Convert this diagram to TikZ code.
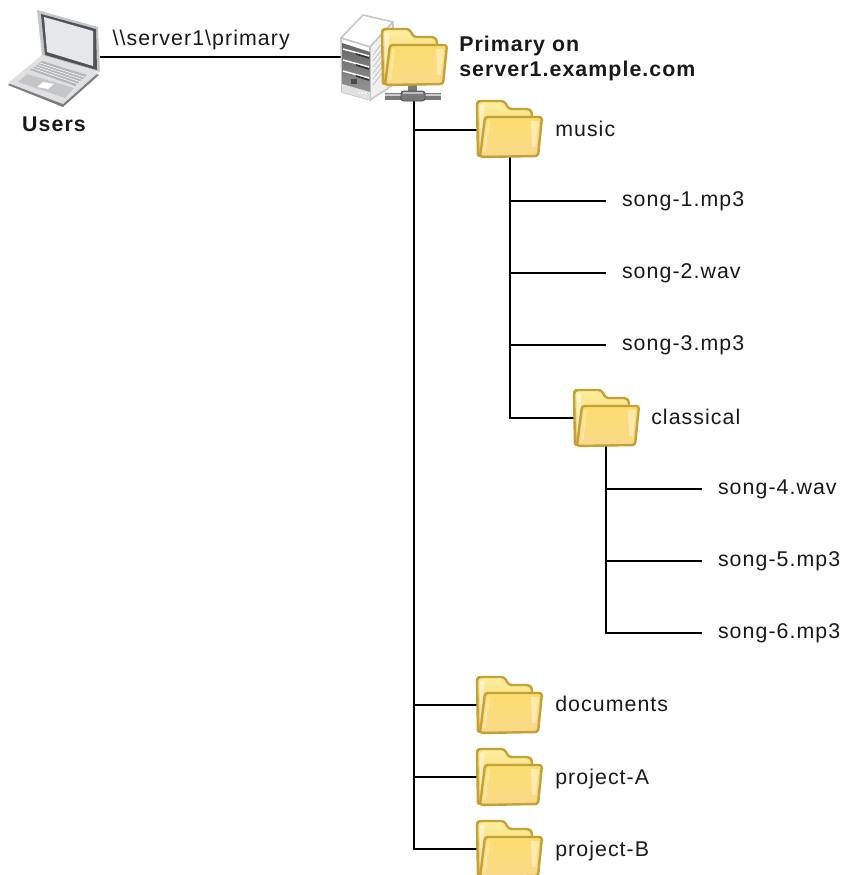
\documentclass[tikz,border=0pt]{standalone}
\usepackage{fontspec}
\setmainfont[LetterSpace=5]{Liberation Sans}
\usetikzlibrary{calc}
\definecolor{foldline}{HTML}{C4A035}
\definecolor{backtop}{HTML}{FFEFA0}
\definecolor{backbot}{HTML}{E9C558}
\definecolor{fronttop}{HTML}{FCDD6E}
\definecolor{frontbot}{HTML}{FBD98A}
\definecolor{lidgrey}{HTML}{C4C6C8}
\definecolor{frame}{HTML}{4F5256}
\definecolor{screenc}{HTML}{E6E7E8}
\definecolor{keysc}{HTML}{B4B7BA}
\definecolor{barc}{HTML}{77797B}
\tikzset{
  x=0.75pt,y=-0.75pt,
  every node/.style={font=\fontsize{16}{19}\selectfont,text=black!90},
  link/.style={line width=1.9pt,black},
  folderbox/.style={minimum width=48.75pt,minimum height=42pt,inner sep=0pt,outer sep=0pt},
  serverbox/.style={minimum width=18pt,minimum height=8pt,inner sep=0pt,outer sep=0pt},
  filelabel/.style={inner xsep=12pt,inner ysep=0pt,outer sep=0pt,text height=11pt,text depth=3pt},
  namelabel/.style={anchor=base west,inner sep=0pt},
  boldlabel/.style={namelabel,font=\fontsize{16}{19}\selectfont\bfseries},
  foldedge/.style={foldline,line width=1.8pt,line join=round,rounded corners=2pt},
}
\newcommand{\folderart}[1]{%
  \begin{scope}[shift={(#1)}]
    \draw[foldedge,top color=backtop,bottom color=backbot]
      (1,56) -- (0,2) -- (2,0) -- (27,0) -- (32,8) -- (52,8) -- (55,11) -- (55,20) -- cycle;
    \fill[white,opacity=.45] (3,4) -- (7,4) -- (7,14) -- (5,50) -- (3,50) -- cycle;
    \draw[foldedge,top color=fronttop,bottom color=frontbot]
      (8,16) -- (65,16) -- (61,55) -- (3,56) -- cycle;
    \fill[white,opacity=.4] (54,20) -- (62,20) -- (59,46) -- (55,46) -- cycle;
    \fill[white,opacity=.3] (10,20) -- (13,20) -- (9,52) -- (6,52) -- cycle;
  \end{scope}}
\begin{document}
\begin{tikzpicture}
\useasboundingbox (0,0) rectangle (842,875);
% nodes
\node[serverbox] (hub) at (414,96) {};
\node[inner sep=0pt,minimum size=1pt] (laptop) at (99,57) {};
\node[inner sep=0pt,minimum size=1pt] (server) at (342,57) {};
\node[font=\fontsize{16}{19}\selectfont\bfseries,inner sep=0pt,anchor=base] (users) at (54,131) {Users};
\node[folderbox,anchor=north west] (primaryf) at (382,29) {};
\node[folderbox,anchor=north west] (music) at (477,101) {};
\node[folderbox,anchor=north west] (classical) at (574,390) {};
\node[folderbox,anchor=north west] (documents) at (477,677) {};
\node[folderbox,anchor=north west] (projecta) at (477,749) {};
\node[folderbox,anchor=north west] (projectb) at (477,821) {};
\node[boldlabel] (pl1) at (459,51) {Primary on};
\node[boldlabel] (pl2) at (459,76) {server1.example.com};
\node[namelabel] (nmusic) at (555,136) {music};
\node[namelabel] (nclass) at (651,424) {classical};
\node[namelabel] (ndocs) at (555,711) {documents};
\node[namelabel] (npa) at (555,784) {project-A};
\node[namelabel] (npb) at (555,856) {project-B};
\node[filelabel,anchor=west] (s1) at (606,201) {song-1.mp3};
\node[filelabel,anchor=west] (s2) at (606,273) {song-2.wav};
\node[filelabel,anchor=west] (s3) at (606,345) {song-3.mp3};
\node[filelabel,anchor=west] (s4) at (702,489) {song-4.wav};
\node[filelabel,anchor=west] (s5) at (702,561) {song-5.mp3};
\node[filelabel,anchor=west] (s6) at (702,633) {song-6.mp3};
% connectors
\draw[link] (laptop) -- node[above=5pt,pos=.42,inner sep=0pt,text height=11pt,text depth=3pt] {\textbackslash\textbackslash server1\textbackslash primary} (server);
\draw[link] (hub.south) |- ($(music.west)+(0,1)$);
\draw[link] (hub.south) |- (documents.west);
\draw[link] (hub.south) |- (projecta.west);
\draw[link] (hub.south) |- (projectb.west);
\coordinate (mt) at ($(music.south)+(0.5,0)$);
\draw[link] (mt) |- (s1.west);
\draw[link] (mt) |- (s2.west);
\draw[link] (mt) |- (s3.west);
\draw[link] (mt) |- (classical.west);
\coordinate (ct) at ($(classical.south)+(-0.5,0)$);
\draw[link] (ct) |- (s4.west);
\draw[link] (ct) |- (s5.west);
\draw[link] (ct) |- (s6.west);
% laptop
\fill[frame!75] (8,85) -- (42,58) -- (99,75) -- (63,107) -- cycle;
\fill[lidgrey] (37,10) -- (98,27) -- (100,72) -- (42,56) -- cycle;
\fill[frame] (41,14) -- (96,29) -- (97,70) -- (45,55) -- cycle;
\fill[screenc] (44,17) -- (93,31) -- (93,66) -- (47,52) -- cycle;
\fill[black!12] (8,83) -- (42,55) -- (99,72) -- (63,104) -- cycle;
\fill[keysc] (30,70) -- (42,61) -- (87,75) -- (75,86) -- cycle;
\foreach \t in {.2,.4,.6,.8}
  \draw[white,line width=.4pt] ($(30,70)!\t!(42,61)$) -- ($(75,86)!\t!(87,75)$);
\fill[keysc!80] (18,82) -- (27,74) -- (74,88) -- (65,98) -- cycle;
\fill[white] (37,87) -- (43,82) -- (54,84) -- (48,89) -- cycle;
% server
\draw[black!22,line width=1.2pt,line join=round,fill=white] (341,38) -- (363,15) -- (393,22) -- (370,47) -- cycle;
\draw[black!22,line width=1.2pt,line join=round,fill=black!6] (370,47) -- (393,22) -- (393,85) -- (370,100) -- cycle;
\foreach \d in {0,6,12,18,24,30}
  \draw[black!22,line width=.7pt] (373,55+\d) -- (390,33+\d);
\draw[black!22,line width=1.2pt,line join=round,fill=white] (341,38) -- (370,47) -- (370,100) -- (342,92) -- cycle;
\shade[top color=black!60,bottom color=black!40] (342,43) -- (370,52) -- (370,97) -- (342,89) -- cycle;
\foreach \d in {0,11,22}
  \draw[white,line width=1.1pt] (343,49+\d) -- (369,56+\d);
\foreach \d in {0,11,22}
  \draw[black!80,line width=1.2pt] (356,54+\d) -- (369,58+\d);
\fill[black!12] (342,84) -- (370,92) -- (370,100) -- (342,92) -- cycle;
\fill[black!70] (351,79) rectangle (357,84);
\foreach \d in {0,3,6}
  \fill[white] (359+\d,93) circle (1);
% folders
\fill[barc] (408,85) rectangle (417,91);
\fill[barc] (385,93) rectangle (441,100);
\fill[black!20] (385,94) rectangle (441,95.5);
\draw[black!70,fill=barc,rounded corners=2pt,line width=.6pt] (401,91) rectangle (425,101);
\fill[black!25] (403,92) rectangle (423,94);
\folderart{primaryf.north west}
\folderart{music.north west}
\folderart{classical.north west}
\folderart{documents.north west}
\folderart{projecta.north west}
\folderart{projectb.north west}
\end{tikzpicture}
\end{document}
